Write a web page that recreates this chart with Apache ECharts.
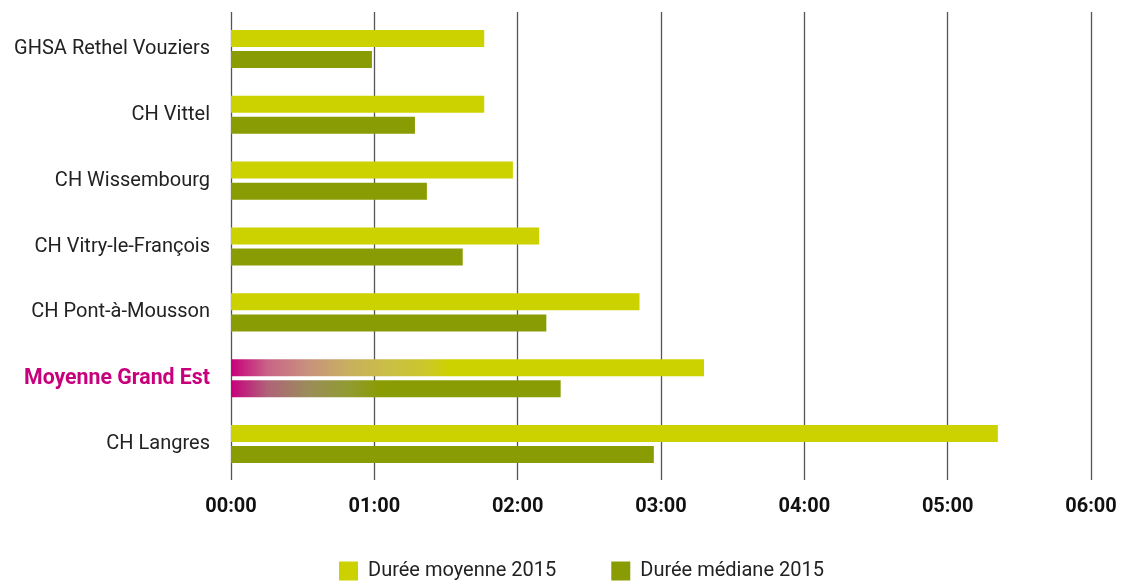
<!DOCTYPE html>
<html>
<head>
<meta charset="utf-8">
<script src="https://cdn.jsdelivr.net/npm/echarts@6/dist/echarts.min.js"></script>
<style>
html,body{margin:0;padding:0;background:#fff;}
#chart{width:1124px;height:581px;}
</style>
</head>
<body>
<div id="chart"></div>
<script>
// Categories (top to bottom)
const categories = ["GHSA Rethel Vouziers", "CH Vittel", "CH Wissembourg", "CH Vitry-le-François", "CH Pont-à-Mousson", "Moyenne Grand Est", "CH Langres"];
// Durations in minutes
const dureeMoyenne = [106, 106, 118, 129, 171, 198, 321];
const dureeMediane = [59, 77, 82, 97, 132, 138, 177];
const seriesNames = ["Durée moyenne 2015", "Durée médiane 2015"];
const highlight = "Moyenne Grand Est";

const colMoy = "#ccd200";
const colMed = "#8a9c04";
const magenta = "#c8007c";

const gradMoy = () => new echarts.graphic.LinearGradient(0, 0, 1, 0, [
  {offset: 0, color: magenta},
  {offset: 0.078, color: "rgb(200,100,135)"},
  {offset: 0.162, color: "rgb(200,145,125)"},
  {offset: 0.247, color: "rgb(200,175,95)"},
  {offset: 0.331, color: "rgb(201,190,70)"},
  {offset: 0.416, color: "rgb(204,200,40)"},
  {offset: 0.46, color: colMoy},
  {offset: 1, color: colMoy}
]);
const gradMed = () => new echarts.graphic.LinearGradient(0, 0, 1, 0, [
  {offset: 0, color: magenta},
  {offset: 0.112, color: "rgb(175,100,120)"},
  {offset: 0.233, color: "rgb(155,140,90)"},
  {offset: 0.355, color: "rgb(145,155,50)"},
  {offset: 0.45, color: colMed},
  {offset: 1, color: colMed}
]);
function build(vals, g) {
  return vals.map((v, i) => categories[i] === highlight
    ? {value: v, itemStyle: {color: g()}}
    : v);
}
function fmt(m) {
  const h = Math.floor(m / 60), mm = Math.round(m % 60);
  return String(h).padStart(2, "0") + ":" + String(mm).padStart(2, "0");
}

const chart = echarts.init(document.getElementById("chart"), null, {renderer: "canvas"});
chart.setOption({
  animation: false,
  textStyle: {fontFamily: "Roboto"},
  grid: [
    {left: 231, right: 33, top: 16, height: 461, containLabel: false},
    {left: 231, right: 33, top: 12, height: 468, containLabel: false}
  ],
  legend: {
    top: 561,
    left: 339,
    padding: 0,
    itemWidth: 19,
    itemHeight: 19,
    itemGap: 55,
    icon: "rect",
    textStyle: {fontSize: 20, color: "#222", fontFamily: "Roboto", padding: [0, 0, 0, 5]},
    data: seriesNames
  },
  xAxis: [
    {
      type: "value",
      gridIndex: 0,
      min: 0,
      max: 360,
      interval: 60,
      axisLine: {show: false},
      axisTick: {show: false},
      splitLine: {show: false},
      axisLabel: {show: false}
    },
    {
      type: "value",
      gridIndex: 1,
      min: 0,
      max: 360,
      interval: 60,
      axisLine: {show: false},
      axisTick: {show: false},
      splitLine: {show: true, lineStyle: {color: "#555", width: 1.3}},
      axisLabel: {
        formatter: fmt,
        fontSize: 20,
        fontWeight: "bold",
        color: "#111",
        margin: 17
      }
    }
  ],
  yAxis: [
    {
      type: "category",
      gridIndex: 0,
      inverse: true,
      data: categories,
      axisLine: {show: false},
      axisTick: {show: false},
      axisLabel: {
        fontSize: 20,
        color: "#222",
        margin: 21,
        formatter: function (v) { return v === highlight ? "{h|" + v + "}" : v; },
        rich: {h: {fontSize: 21.3, fontWeight: "bold", color: magenta, fontFamily: "Roboto"}}
      }
    },
    {
      type: "value",
      gridIndex: 1,
      show: false,
      splitLine: {show: false}
    }
  ],
  series: [
    {
      name: seriesNames[0],
      type: "bar",
      xAxisIndex: 0,
      yAxisIndex: 0,
      data: build(dureeMoyenne, gradMoy),
      itemStyle: {color: colMoy},
      barWidth: 17,
      barGap: "24%",
      z: 3
    },
    {
      name: seriesNames[1],
      type: "bar",
      xAxisIndex: 0,
      yAxisIndex: 0,
      data: build(dureeMediane, gradMed),
      itemStyle: {color: colMed},
      barWidth: 17,
      barGap: "24%",
      z: 3
    }
  ]
});
</script>
</body>
</html>
